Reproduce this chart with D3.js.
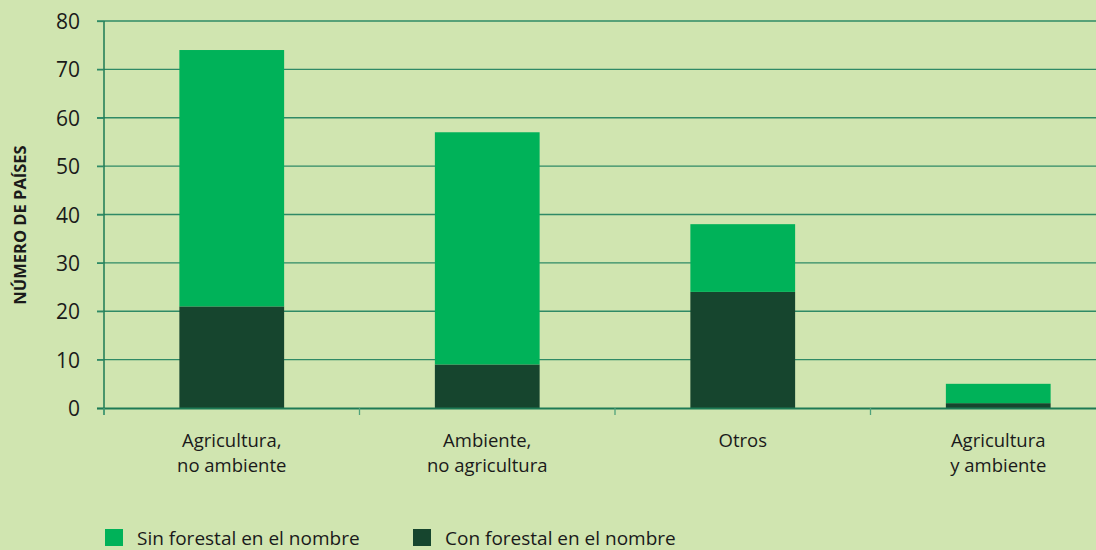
<!DOCTYPE html>
<html>
<head>
<meta charset="utf-8">
<script src="https://cdn.jsdelivr.net/npm/d3@7"></script>
<style>
  html, body { margin: 0; padding: 0; background: #d0e5b0; }
  svg { display: block; }
  text { font-family: "Open Sans", "Lato", sans-serif; fill: #1a1a1a; }
</style>
</head>
<body>
<svg id="chart" width="1096" height="550"></svg>
<script>
const categories = [["Agricultura,", "no ambiente"], ["Ambiente,", "no agricultura"], ["Otros"], ["Agricultura", "y ambiente"]];
const sinForestal = [53, 48, 14, 4];
const conForestal = [21, 9, 24, 1];
const yTicks = [0, 10, 20, 30, 40, 50, 60, 70, 80];
const seriesNames = ["Sin forestal en el nombre", "Con forestal en el nombre"];
const colors = ["#00b259", "#16452e"];

const svg = d3.select("#chart");
const W = 1096, H = 550;
svg.append("rect").attr("width", W).attr("height", H).attr("fill", "#d0e5b0");

const x0 = 104, yBottom = 408, yTop = 21;
const step = 255.5;
const keys = categories.map((d, i) => i);
const x = d3.scaleBand().domain(keys).range([x0, x0 + step * categories.length]).paddingInner(0.59).paddingOuter(0.295);
const y = d3.scaleLinear().domain([0, 80]).range([yBottom, yTop]);

// gridlines
svg.append("g").selectAll("line").data(yTicks.filter(d => d > 0)).join("line")
  .attr("x1", 97).attr("x2", W)
  .attr("y1", d => y(d)).attr("y2", d => y(d))
  .attr("stroke", "#2f8a66").attr("stroke-width", 1.3);

// stacked data
const rows = keys.map(i => ({ i, con: conForestal[i], sin: sinForestal[i] }));
const stacked = d3.stack().keys(["con", "sin"])(rows);

svg.append("g").selectAll("g").data(stacked).join("g")
  .attr("fill", (d, k) => colors[1 - k])
  .selectAll("rect").data(d => d).join("rect")
  .attr("x", d => x(d.data.i))
  .attr("width", x.bandwidth())
  .attr("y", d => y(d[1]))
  .attr("height", d => y(d[0]) - y(d[1]));

// y axis
const yAxis = d3.axisLeft(y).tickValues(yTicks).tickSize(7).tickPadding(17);
const gy = svg.append("g").attr("transform", `translate(${x0},0)`).call(yAxis);
gy.select(".domain").attr("stroke", "#1d7a55").attr("stroke-width", 1.5).attr("d", `M0,${yTop}V${yBottom + 7}`);
gy.selectAll(".tick line").attr("stroke", "#2f8a66").attr("stroke-width", 1.3);
gy.selectAll(".tick text").style("font-size", "21px").attr("fill", "#1a1a1a").attr("dy", "0.36em");

// x axis
const gx = svg.append("g").attr("transform", `translate(0,${yBottom})`);
gx.append("line").attr("x1", 97).attr("x2", W).attr("y1", 0.5).attr("y2", 0.5)
  .attr("stroke", "#1d7a55").attr("stroke-width", 2);
gx.selectAll("line.tk").data(keys).join("line").attr("class", "tk")
  .attr("x1", d => x(d) - x.step() * x.paddingOuter()).attr("x2", d => x(d) - x.step() * x.paddingOuter())
  .attr("y1", 0).attr("y2", 7)
  .attr("stroke", "#4fa27c").attr("stroke-width", 1.3);

const labels = svg.append("g").selectAll("text").data(keys).join("text")
  .attr("text-anchor", "middle")
  .attr("x", d => x(d) + x.bandwidth() / 2)
  .attr("y", 447)
  .style("font-size", "18.5px");
labels.selectAll("tspan").data(d => categories[d]).join("tspan")
  .attr("x", function() { return this.parentNode.getAttribute("x"); })
  .attr("dy", (d, j) => j === 0 ? 0 : 25)
  .text(d => d);

// y label
svg.append("text")
  .attr("transform", "translate(26,225) rotate(-90)")
  .attr("text-anchor", "middle")
  .style("font-size", "16.5px").style("font-weight", "bold")
  .text("NÚMERO DE PAÍSES");

// legend
const legendX = [105, 413];
const lg = svg.append("g").selectAll("g").data(seriesNames).join("g")
  .attr("transform", (d, i) => `translate(${legendX[i]},529)`);
lg.append("rect").attr("width", 18).attr("height", 17).attr("fill", (d, i) => colors[i]);
lg.append("text").attr("x", 32).attr("y", 16).style("font-size", "19px").text(d => d);
</script>
</body>
</html>
